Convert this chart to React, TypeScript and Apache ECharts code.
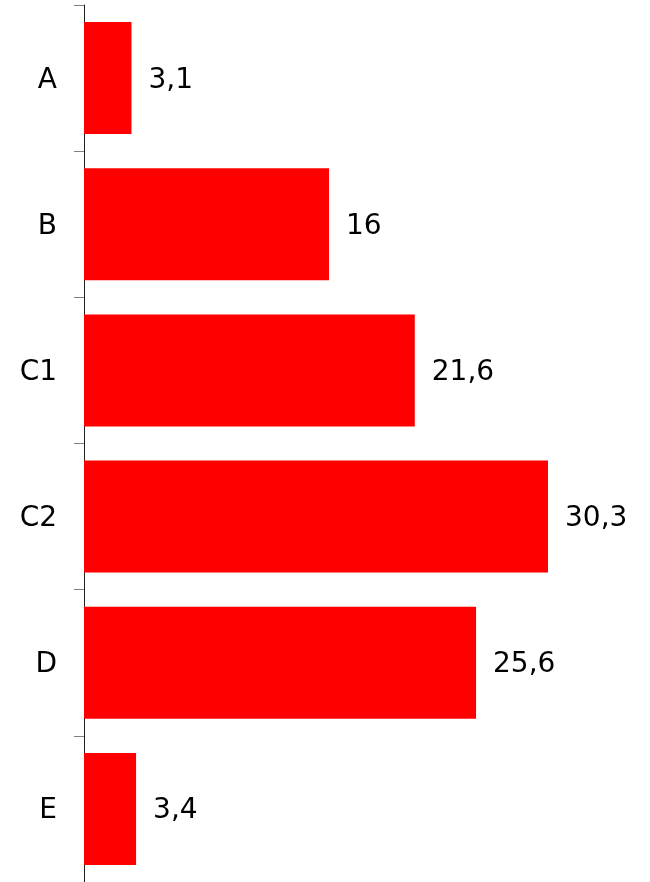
import React, { useEffect, useRef } from "react";
import * as echarts from "echarts";

const categories = ["A", "B", "C1", "C2", "D", "E"];
const values = [3.1, 16, 21.6, 30.3, 25.6, 3.4];

export default function App() {
  const ref = useRef<HTMLDivElement>(null);
  useEffect(() => {
    document.body.style.margin = "0";
    const chart = echarts.init(ref.current!, null, { renderer: "svg" });
    chart.setOption({
      animation: false,
      textStyle: { fontFamily: "DejaVu Sans" },
      grid: { left: 84, top: 5, width: 536, bottom: -2, containLabel: false },
      xAxis: {
        type: "value",
        min: 0,
        max: 35,
        show: false,
      },
      yAxis: {
        type: "category",
        data: categories,
        inverse: true,
        axisLine: { show: true, lineStyle: { color: "#222", width: 1 } },
        axisTick: { show: true, length: 10, lineStyle: { color: "#808080", width: 1 } },
        axisLabel: { color: "#000", fontSize: 28, margin: 27, fontFamily: "DejaVu Sans" },
        splitLine: { show: false },
      },
      series: [
        {
          type: "bar",
          data: values,
          barCategoryGap: "23.4%",
          itemStyle: { color: "#ff0000" },
          label: {
            show: true,
            position: "right",
            distance: 17,
            color: "#000",
            fontSize: 28,
            fontFamily: "DejaVu Sans",
            formatter: (p: any) => String(p.value).replace(".", ","),
          },
        },
      ],
    });
    return () => chart.dispose();
  }, []);
  return <div ref={ref} style={{ width: 650, height: 882, position: "fixed", left: 0, top: 0 }} />;
}
